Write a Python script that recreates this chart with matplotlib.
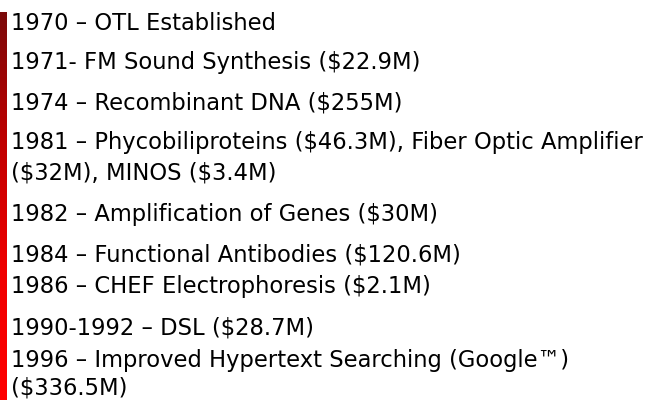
import numpy as np
import matplotlib.pyplot as plt
from matplotlib.colors import LinearSegmentedColormap

# timeline entries, one row of text each
lines = [
    "1970 – OTL Established",
    "1971- FM Sound Synthesis ($22.9M)",
    "1974 – Recombinant DNA ($255M)",
    "1981 – Phycobiliproteins ($46.3M), Fiber Optic Amplifier",
    "($32M), MINOS ($3.4M)",
    "1982 – Amplification of Genes ($30M)",
    "1984 – Functional Antibodies ($120.6M)",
    "1986 – CHEF Electrophoresis ($2.1M)",
    "1990-1992 – DSL ($28.7M)",
    "1996 – Improved Hypertext Searching (Google™)",
    "($336.5M)",
]
# vertical centre of each row, in pixels from the top
row_y = [23, 63, 103, 143, 173, 215, 255, 287, 328, 360, 388]

W, H = 648, 400
fig = plt.figure(figsize=(W / 100, H / 100), dpi=100)
fig.patch.set_facecolor("white")

# red gradient bar on the left
bar = fig.add_axes([0, 0, 7 / W, (H - 12) / H])
grad = np.linspace(0, 1, 256).reshape(-1, 1)
cmap = LinearSegmentedColormap.from_list("bar", ["#7a0a0a", "#c00000", "#f00000", "#ff0000"])
bar.imshow(grad, aspect="auto", cmap=cmap, origin="upper")
bar.axis("off")

ax = fig.add_axes([0, 0, 1, 1])
ax.set_xlim(0, W)
ax.set_ylim(H, 0)
ax.axis("off")

size = 16
texts = [ax.text(11, y, s, fontsize=size, va="center", ha="left",
                 family="DejaVu Sans", color="black", parse_math=False)
         for s, y in zip(lines, row_y)]

# fit the font so the longest row spans to the right edge like the original
fig.canvas.draw()
r = fig.canvas.get_renderer()
widest = max(t.get_window_extent(r).width for t in texts)
new_size = size * 634 / widest
for t in texts:
    t.set_fontsize(new_size)

fig.savefig("out.png", dpi=100)
